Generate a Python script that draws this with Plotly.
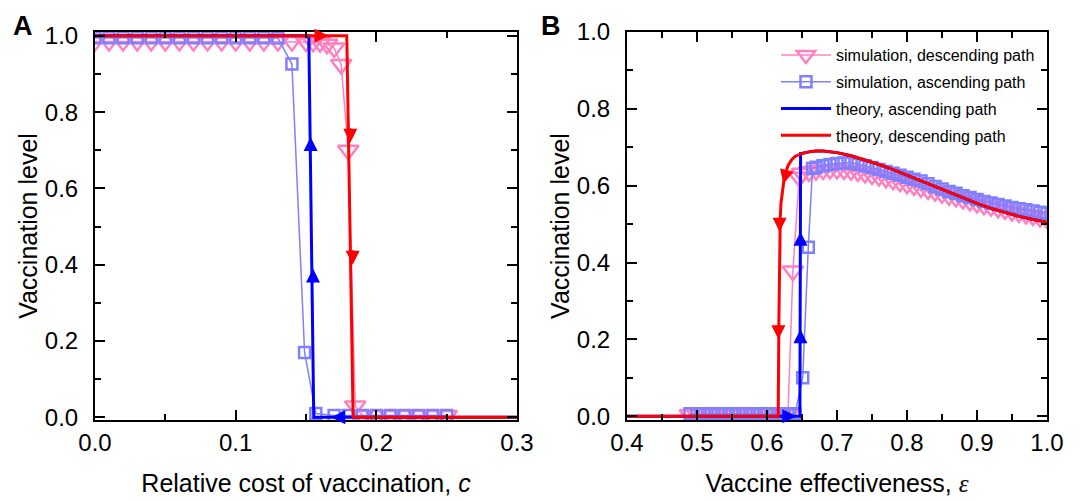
import plotly.graph_objects as go

# ---------------- Panel A data ----------------
pinkA_c = [0.00, 0.01, 0.02, 0.03, 0.04, 0.05, 0.06, 0.07, 0.08, 0.09, 0.10, 0.11, 0.12, 0.13,
           0.14, 0.15, 0.155, 0.16, 0.165, 0.17, 0.175, 0.18, 0.185, 0.19, 0.20, 0.21, 0.22,
           0.23, 0.24, 0.25]
pinkA_v = [0.985, 0.985, 0.985, 0.985, 0.985, 0.985, 0.985, 0.985, 0.985, 0.985, 0.985, 0.985,
           0.985, 0.985, 0.985, 0.984, 0.983, 0.982, 0.978, 0.968, 0.925, 0.700, 0.030, 0.005,
           0.005, 0.005, 0.005, 0.005, 0.005, 0.005]

sqA_c = [0.00, 0.01, 0.02, 0.03, 0.04, 0.05, 0.06, 0.07, 0.08, 0.09, 0.10, 0.11, 0.12, 0.13,
         0.14, 0.149, 0.157, 0.17, 0.18, 0.19, 0.20, 0.21, 0.22, 0.23, 0.24, 0.25]
sqA_v = [0.995, 0.995, 0.995, 0.995, 0.995, 0.995, 0.995, 0.995, 0.995, 0.995, 0.995, 0.995,
         0.995, 0.994, 0.926, 0.170, 0.010, 0.005, 0.005, 0.005, 0.005, 0.005, 0.005, 0.005,
         0.005, 0.005]

blueA_c = [0.30, 0.1555, 0.152, 0.00]
blueA_v = [0.0, 0.0, 1.0, 1.0]
redA_c = [0.00, 0.179, 0.1835, 0.30]
redA_v = [1.0, 1.0, 0.0, 0.0]

# arrow tips (x, y, direction)
arrowsA_red = [(0.166, 1.0, "right"), (0.1815, 0.72, "down"), (0.1832, 0.40, "down")]
arrowsA_blue = [(0.1533, 0.735, "up"), (0.1550, 0.39, "up"), (0.168, 0.0, "left")]

# ---------------- Panel B data ----------------
pinkB_e = [0.49, 0.50, 0.51, 0.52, 0.53, 0.54, 0.55, 0.56, 0.57, 0.58, 0.59, 0.60, 0.61, 0.62,
           0.63, 0.637, 0.646, 0.65, 0.66, 0.67, 0.68, 0.69, 0.70, 0.71, 0.72, 0.73, 0.74, 0.75,
           0.76, 0.77, 0.78, 0.79, 0.80, 0.81, 0.82, 0.83, 0.84, 0.85, 0.86, 0.87, 0.88, 0.89,
           0.90, 0.91, 0.92, 0.93, 0.94, 0.95, 0.96, 0.97, 0.98, 0.99, 1.00]
pinkB_v = [0.004, 0.004, 0.004, 0.004, 0.004, 0.004, 0.004, 0.004, 0.004, 0.004, 0.004, 0.004,
           0.004, 0.004, 0.004, 0.378, 0.622, 0.632, 0.636, 0.639, 0.641, 0.642, 0.642, 0.641,
           0.639, 0.636, 0.632, 0.628, 0.624, 0.619, 0.614, 0.609, 0.604, 0.599, 0.594, 0.589,
           0.584, 0.579, 0.574, 0.569, 0.564, 0.559, 0.554, 0.549, 0.545, 0.541, 0.537, 0.533,
           0.529, 0.525, 0.521, 0.517, 0.513]

sqB_e = [0.49, 0.50, 0.51, 0.52, 0.53, 0.54, 0.55, 0.56, 0.57, 0.58, 0.59, 0.60, 0.61, 0.62,
         0.63, 0.64, 0.651, 0.659, 0.665, 0.67, 0.68, 0.69, 0.70, 0.71, 0.72, 0.73, 0.74, 0.75,
         0.76, 0.77, 0.78, 0.79, 0.80, 0.81, 0.82, 0.83, 0.84, 0.85, 0.86, 0.87, 0.88, 0.89,
         0.90, 0.91, 0.92, 0.93, 0.94, 0.95, 0.96, 0.97, 0.98, 0.99, 1.00]
sqB_v = [0.006, 0.006, 0.006, 0.006, 0.006, 0.006, 0.006, 0.006, 0.006, 0.006, 0.006, 0.006,
         0.006, 0.006, 0.006, 0.006, 0.100, 0.440, 0.645, 0.648, 0.652, 0.655, 0.658, 0.659,
         0.660, 0.656, 0.652, 0.647, 0.642, 0.637, 0.632, 0.627, 0.622, 0.617, 0.612, 0.605,
         0.598, 0.591, 0.585, 0.580, 0.574, 0.569, 0.564, 0.559, 0.555, 0.551, 0.547, 0.543,
         0.540, 0.537, 0.534, 0.531, 0.528]

redB_e = [0.40, 0.616, 0.617, 0.618, 0.619, 0.620, 0.622, 0.625, 0.630, 0.635, 0.640, 0.650,
          0.660, 0.670, 0.680, 0.690, 0.700, 0.720, 0.740, 0.760, 0.780, 0.800, 0.820, 0.840,
          0.860, 0.880, 0.900, 0.920, 0.940, 0.960, 0.980, 1.000]
redB_v = [0.0, 0.0, 0.25, 0.45, 0.52, 0.555, 0.59, 0.625, 0.652, 0.667, 0.676, 0.684, 0.688,
          0.690, 0.690, 0.688, 0.686, 0.678, 0.667, 0.655, 0.642, 0.628, 0.613, 0.598, 0.583,
          0.568, 0.554, 0.541, 0.530, 0.520, 0.512, 0.505]

blueB_e = [0.40, 0.647, 0.648] + redB_e[11:]
blueB_v = [0.0, 0.0, 0.684] + redB_v[11:]

arrowsB_red = [(0.6235, 0.605, "downleft"), (0.618, 0.48, "down"), (0.6163, 0.20, "down")]
arrowsB_blue = [(0.642, 0.0, "right"), (0.6478, 0.226, "up"), (0.6479, 0.48, "up")]

legend_names = ["simulation, descending path", "simulation, ascending path",
                "theory, ascending path", "theory, descending path"]

# ---------------- styles ----------------
PINK = "#FF80C0"
LBLUE = "#8080FF"
BLUE = "#0000FF"
RED = "#FF0000"
FONT = "Liberation Sans, Arial, Helvetica, sans-serif"

# the page body adds an 8px margin; size the figure to fill the rest of the window
OFF = 8
W, H = 1080 - OFF, 501 - OFF


def px(x):
    return (x - OFF) / W


def py(y):
    return 1 - (y - OFF) / H


fig = go.Figure()


def add_panel(xa, ya, pink_x, pink_y, sq_x, sq_y, bl_x, bl_y, rd_x, rd_y, show):
    fig.add_trace(go.Scatter(x=pink_x, y=pink_y, mode="lines+markers", xaxis=xa, yaxis=ya,
                             name=legend_names[0], showlegend=show, legendgroup="g1",
                             line=dict(color=PINK, width=1.5),
                             marker=dict(symbol="triangle-down-open", size=18,
                                         line=dict(color=PINK, width=2.5), color=PINK)))
    fig.add_trace(go.Scatter(x=sq_x, y=sq_y, mode="lines+markers", xaxis=xa, yaxis=ya,
                             name=legend_names[1], showlegend=show, legendgroup="g2",
                             line=dict(color=LBLUE, width=1.5),
                             marker=dict(symbol="square-open", size=11,
                                         line=dict(color=LBLUE, width=2.5), color=LBLUE)))
    fig.add_trace(go.Scatter(x=bl_x, y=bl_y, mode="lines", xaxis=xa, yaxis=ya,
                             name=legend_names[2], showlegend=show, legendgroup="g3",
                             line=dict(color=BLUE, width=3)))
    fig.add_trace(go.Scatter(x=rd_x, y=rd_y, mode="lines", xaxis=xa, yaxis=ya,
                             name=legend_names[3], showlegend=show, legendgroup="g4",
                             line=dict(color=RED, width=3)))


add_panel("x", "y", pinkA_c, pinkA_v, sqA_c, sqA_v, blueA_c, blueA_v, redA_c, redA_v, False)
add_panel("x2", "y2", pinkB_e, pinkB_v, sqB_e, sqB_v, blueB_e, blueB_v, redB_e, redB_v, True)

OFFS = {"down": (0, -16), "up": (0, 16), "left": (16, 0), "right": (-16, 0),
        "downleft": (4, -16)}

annotations = []
for xr, yr, arrows, color in [("x", "y", arrowsA_red, RED), ("x", "y", arrowsA_blue, BLUE),
                              ("x2", "y2", arrowsB_red, RED), ("x2", "y2", arrowsB_blue, BLUE)]:
    for (ax_, ay_, d) in arrows:
        ox, oy = OFFS[d]
        annotations.append(dict(x=ax_, y=ay_, xref=xr, yref=yr, text="", showarrow=True,
                                ax=ox, ay=oy, arrowhead=2, arrowsize=1.4, arrowwidth=2,
                                arrowcolor=color, standoff=0))

annotations.append(dict(x=px(11), y=py(9), xref="paper", yref="paper", text="<b>A</b>",
                        showarrow=False, xanchor="left", yanchor="top",
                        font=dict(size=27, family=FONT, color="black")))
annotations.append(dict(x=px(539), y=py(9), xref="paper", yref="paper", text="<b>B</b>",
                        showarrow=False, xanchor="left", yanchor="top",
                        font=dict(size=27, family=FONT, color="black")))

axis_common = dict(showline=True, linecolor="black", linewidth=2, mirror="allticks",
                   ticks="inside", ticklen=10, tickwidth=2, tickcolor="black",
                   showgrid=False, zeroline=False, tickformat=".1f", automargin=False,
                   tickfont=dict(size=24, family=FONT, color="black"),
                   title_font=dict(size=25, family=FONT, color="black"))

minor_common = dict(ticks="inside", ticklen=6, tickwidth=2, tickcolor="black")

fig.update_layout(
    width=W, height=H,
    margin=dict(l=0, r=0, t=0, b=0),
    paper_bgcolor="white", plot_bgcolor="white",
    font=dict(family=FONT, color="black"),
    annotations=annotations,
    xaxis=dict(axis_common, domain=[px(95), px(517)], range=[0, 0.3], dtick=0.1,
               minor=dict(minor_common, dtick=0.05),
               title=dict(text="Relative cost of vaccination, <i>c</i>", standoff=20),
               ticklabelstandoff=0, anchor="y"),
    yaxis=dict(axis_common, domain=[py(420), py(32)], range=[-0.007, 1.01],
               dtick=0.2, minor=dict(minor_common, dtick=0.1),
               title=dict(text="Vaccination level", standoff=0),
               ticklabelstandoff=10, anchor="x"),
    xaxis2=dict(axis_common, domain=[px(627), px(1047)], range=[0.4, 1.0], dtick=0.1,
                minor=dict(minor_common, dtick=0.05),
                title=dict(text="Vaccine effectiveness, "
                                "<span style=\"font-family:'Liberation Serif', serif\"><i>ε</i></span>",
                           standoff=20),
                ticklabelstandoff=0, anchor="y2"),
    yaxis2=dict(axis_common, domain=[py(420), py(32)], range=[-0.01, 1.0],
                dtick=0.2, minor=dict(minor_common, dtick=0.1),
                title=dict(text="Vaccination level", standoff=0),
                ticklabelstandoff=10, anchor="x2"),
    legend=dict(x=px(776), y=py(38), xanchor="left", yanchor="top",
                bgcolor="rgba(0,0,0,0)", font=dict(size=16, family=FONT, color="black"),
                itemwidth=50, tracegroupgap=3, traceorder="grouped"),
)

fig.write_html("out.html")
